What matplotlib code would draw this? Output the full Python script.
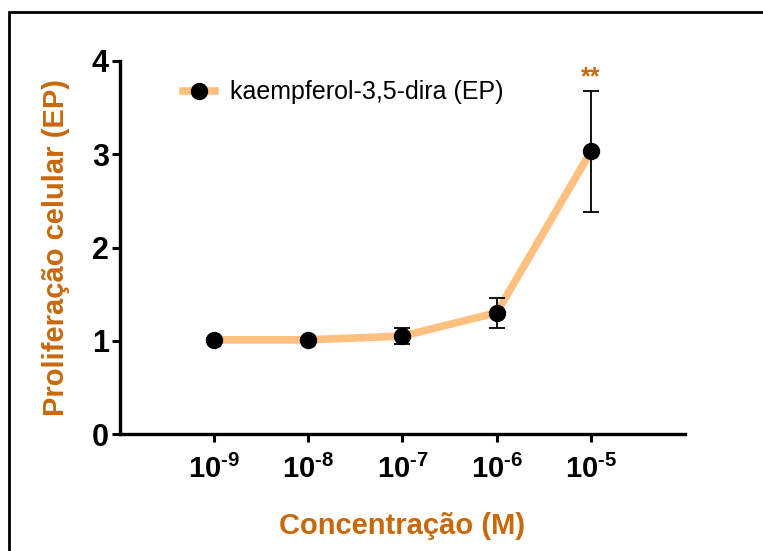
import matplotlib
matplotlib.use('Agg')
import matplotlib.pyplot as plt
from matplotlib.patches import Rectangle

# dados
concentracoes = [1e-9, 1e-8, 1e-7, 1e-6, 1e-5]
rotulos_x = ['-9', '-8', '-7', '-6', '-5']
proliferacao = [1.01, 1.01, 1.05, 1.30, 3.03]
erro = [0.02, 0.02, 0.09, 0.16, 0.65]
marca_signif = '**'

laranja = '#FFC080'
marrom = '#C8680A'
fonte = ['Liberation Sans', 'DejaVu Sans']

plt.rcParams['mathtext.fontset'] = 'custom'
plt.rcParams['mathtext.rm'] = 'Liberation Sans:bold'
plt.rcParams['mathtext.bf'] = 'Liberation Sans:bold'

fig = plt.figure(figsize=(7.63, 5.51), dpi=100)
ax = fig.add_axes([120 / 763, 1 - 434 / 551, 565 / 763, 373 / 551])

ax.plot(concentracoes, proliferacao, color=laranja, lw=5.5, zorder=2,
        label='kaempferol-3,5-dira (EP)', marker='o', markersize=11.5,
        markerfacecolor='black', markeredgecolor='black')
ax.errorbar(concentracoes, proliferacao, yerr=erro, fmt='none', ecolor='black',
            elinewidth=1.3, capsize=6, capthick=1.3, zorder=3)

ax.text(concentracoes[-1], proliferacao[-1] + erro[-1] + 0.02, marca_signif,
        ha='center', va='bottom', color=marrom, fontsize=18, fontweight='bold',
        family=fonte)

ax.set_xscale('log')
ax.set_xlim(1e-10, 1e-4)
ax.set_ylim(0, 4)
ax.set_xticks(concentracoes)
ax.set_xticklabels([r'$\mathbf{10^{\text{%s}}}$' % r for r in rotulos_x])
ax.minorticks_off()
ax.set_yticks([0, 1, 2, 3, 4])
ax.set_yticklabels(['0', '1', '2', '3', '4'])

for s in ['top', 'right']:
    ax.spines[s].set_visible(False)
for s in ['left', 'bottom']:
    ax.spines[s].set_linewidth(2.4)
ax.tick_params(axis='both', width=2.2, length=6, direction='out')
ax.tick_params(axis='x', labelsize=21, pad=9)
ax.tick_params(axis='y', labelsize=22, pad=2)
for t in ax.get_yticklabels():
    t.set_fontweight('bold')
    t.set_family(fonte)

ax.set_ylabel('Proliferação celular (EP)', color=marrom, fontsize=21,
              fontweight='bold', labelpad=16, family=fonte)
ax.set_xlabel('Concentração (M)', color=marrom, fontsize=21, fontweight='bold',
              labelpad=20, family=fonte)

leg = ax.legend(loc='upper left', bbox_to_anchor=(160 / 763, 1 - 58 / 551),
                bbox_transform=fig.transFigure, frameon=False, handlelength=1.3,
                handletextpad=0.6, prop={'family': 'Liberation Sans', 'size': 18})

fig.patches.append(Rectangle((9 / 763, -0.05), 1.1, 1 - 12 / 551 + 0.05,
                             transform=fig.transFigure, fill=False,
                             edgecolor='black', lw=2, zorder=10))

fig.savefig('out.png', dpi=100)
